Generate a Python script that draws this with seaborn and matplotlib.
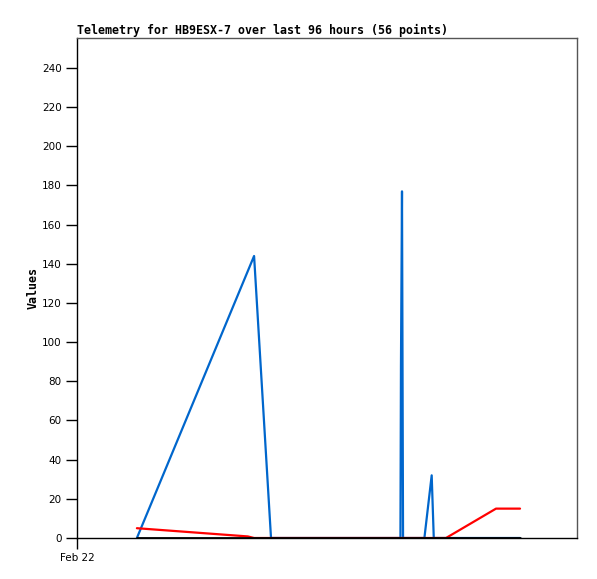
import numpy as np
import pandas as pd
import matplotlib
matplotlib.use("Agg")
import matplotlib.pyplot as plt
import seaborn as sns

# ------------------------------
# Data (hours since Feb 22 00:00)
# ------------------------------
blue_hours = [11.5, 34.0, 37.25, 62.1, 62.2, 62.4, 62.6, 66.7, 68.1, 68.5, 85.06]
blue_values = [0, 144, 0, 0, 88, 177, 0, 0, 32, 0, 0]

red_hours = [11.5, 32.8, 34.0, 70.85, 80.45, 85.06]
red_values = [5, 0.8, 0, 0, 15, 15]

black_hours = [11.5, 85.06]
black_values = [0, 0]

y_ticks = list(range(0, 260, 20))
x_tick_labels = ["Feb 22"]

title = "Telemetry for HB9ESX-7 over last 96 hours (56 points)"

# ------------------------------
# Plot
# ------------------------------
sns.set_style("white")
plt.rcParams['font.family'] = ['DejaVu Sans']
plt.rcParams['text.color'] = 'black'
plt.rcParams['axes.labelcolor'] = 'black'
plt.rcParams['xtick.color'] = 'black'
plt.rcParams['ytick.color'] = 'black'

fig = plt.figure(figsize=(5.97, 5.79), dpi=100)
ax = fig.add_axes([77 / 597, 1 - 538 / 579, 500 / 597, 500 / 579])

lw = 1.6
sns.lineplot(x=blue_hours, y=blue_values, color="#0066cc", linewidth=lw, ax=ax,
             sort=False, estimator=None)
sns.lineplot(x=red_hours, y=red_values, color="#ff0000", linewidth=lw, ax=ax,
             sort=False, estimator=None)
sns.lineplot(x=black_hours, y=black_values, color="#000000", linewidth=2.0, ax=ax,
             sort=False, estimator=None)

ax.set_xlim(0, 96)
ax.set_ylim(0, 255.3)
ax.set_yticks(y_ticks)
ax.set_yticklabels([str(v) for v in y_ticks], fontsize=7.5)
ax.set_xticks([0])
ax.set_xticklabels(x_tick_labels, fontsize=7.5)
ax.tick_params(axis='both', direction='out', length=8, width=1, colors='black',
               left=True, bottom=True, pad=3)

for side in ['left', 'bottom']:
    ax.spines[side].set_color('black')
    ax.spines[side].set_linewidth(1)
for side in ['top', 'right']:
    ax.spines[side].set_color('#555555')
    ax.spines[side].set_linewidth(1)

ax.set_title(title, loc='left', fontsize=8.4, fontweight='bold',
             family='DejaVu Sans Mono', pad=3, color='black')
ax.set_ylabel("Values", fontsize=8.4, fontweight='bold', family='DejaVu Sans Mono',
              labelpad=0, color='black')
ax.yaxis.set_label_coords(-0.074, 0.5)
ax.set_xlabel("")

fig.savefig("out.png", dpi=100)
